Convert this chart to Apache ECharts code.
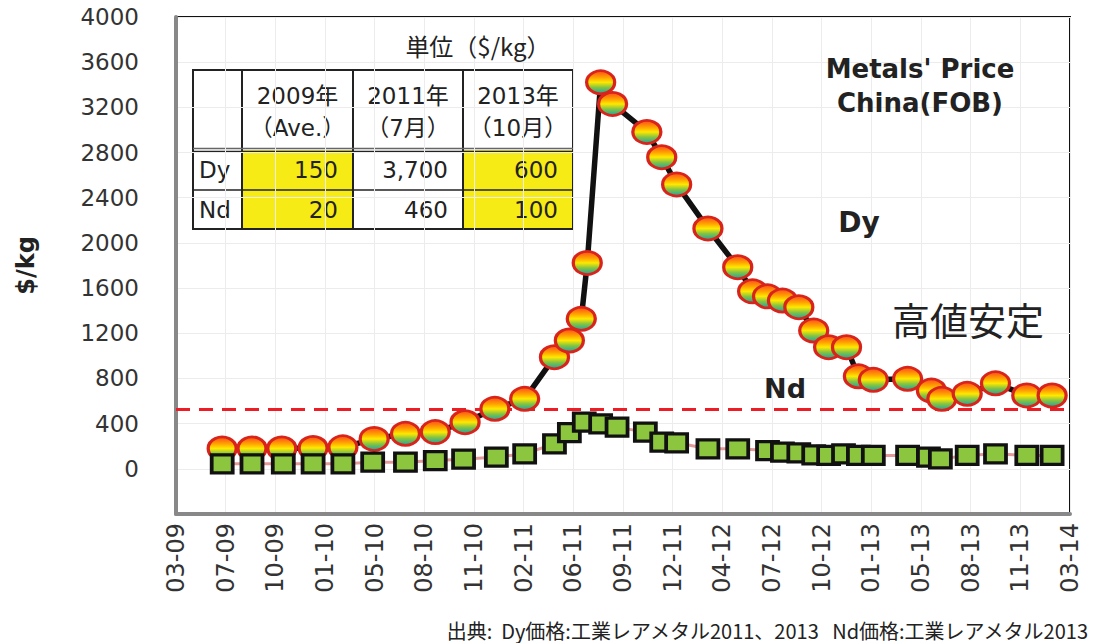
<!DOCTYPE html>
<html><head><meta charset="utf-8">
<script src="https://cdn.jsdelivr.net/npm/echarts@6/dist/echarts.min.js"></script>
<style>html,body{margin:0;padding:0;background:#fff}#c{width:1094px;height:643px}</style>
</head><body><div id="c"></div>
<script>
// ---- data ----
const xLabels = ['03-09','07-09','10-09','01-10','05-10','08-10','11-10','02-11','06-11','09-11','12-11','04-12','07-12','10-12','01-13','05-13','08-13','11-13','03-14'];
// months counted from March 2009
const dyMonths = [3.1,5.1,7.1,9.2,11.2,13.3,15.4,17.4,19.4,21.4,23.4,25.4,26.4,27.2,27.6,28.5,29.3,31.6,32.6,33.6,35.7,37.7,38.7,39.7,40.7,41.8,42.8,43.8,45.0,45.8,46.8,49.1,50.7,51.4,53.1,55.0,57.1,58.8];
const dyValues = [180,180,180,185,190,265,310,325,413,531,620,988,1136,1328,1823,3422,3230,2982,2759,2518,2128,1785,1571,1527,1490,1431,1224,1077,1077,819,788,797,693,620,664,757,650,649];
const ndMonths = [3.1,5.1,7.2,9.2,11.2,13.2,15.4,17.4,19.3,21.5,23.4,25.4,26.4,27.4,28.5,29.6,31.5,32.6,33.6,35.7,37.7,39.7,40.7,41.8,42.8,43.8,44.8,45.8,46.8,49.1,50.5,51.3,53.1,55.0,57.1,58.8];
const ndValues = [44,44,44,44,44,59,59,73,85,104,133,221,320,413,398,369,325,236,230,177,177,162,148,142,124,118,133,118,118,118,104,88,118,133,118,118];
const refLevel = 525;
const yMin = -400, yMax = 4000, yStep = 400;
const unitLabel = '単位（$/kg）';
const tableHeader = ['2009年','2011年','2013年'];
const tableSub = ['（Ave.）','（7月）','（10月）'];
const tableRowNames = ['Dy','Nd'];
const tableDy = ['150','3,700','600'];
const tableNd = ['20','460','100'];
const highlightCols = [0,2];
const titleLines = ["Metals' Price", 'China(FOB)'];
const dyTag = 'Dy', ndTag = 'Nd', noteText = '高値安定';
const sourceText = '出典:  Dy価格:工業レアメタル2011、2013   Nd価格:工業レアメタル2013';

// ---- chart ----
const chart = echarts.init(document.getElementById('c'), null, {renderer: 'svg'});
const cjk = '"Noto Sans CJK JP", "Noto Sans", sans-serif';
const tfont = '"DejaVu Sans", "Noto Sans CJK JP", sans-serif';
const circleFill = {type:'linear', x:0, y:0, x2:0, y2:1, colorStops:[
  {offset:0, color:'#ff4a1c'},{offset:0.3, color:'#ffa400'},{offset:0.5, color:'#ffe800'},
  {offset:0.72, color:'#86c440'},{offset:1, color:'#17a3a8'}]};

// table graphic
const colX = [193, 242, 353, 463, 573];
const rowY = [70, 150, 190, 229];
const tbl = [];
const tableVals = [tableDy, tableNd];
for (let r = 0; r < 2; r++) {
  for (let c = 0; c < 3; c++) {
    if (highlightCols.indexOf(c) >= 0) {
      tbl.push({type:'rect', shape:{x:colX[c+1], y:rowY[r+1], width:colX[c+2]-colX[c+1], height:rowY[r+2]-rowY[r+1]}, style:{fill:'#f6eb14'}});
    }
  }
}
tbl.push({type:'rect', shape:{x:colX[0], y:rowY[0], width:colX[4]-colX[0], height:rowY[3]-rowY[0]}, style:{fill:'none', stroke:'#222', lineWidth:2}});
for (let i = 1; i < 4; i++) tbl.push({type:'line', shape:{x1:colX[i], y1:rowY[0], x2:colX[i], y2:rowY[3]}, style:{stroke:'#222', lineWidth:2}});
tbl.push({type:'line', shape:{x1:colX[0], y1:rowY[1]-1.5, x2:colX[4], y2:rowY[1]-1.5}, style:{stroke:'#666', lineWidth:1.5}});
tbl.push({type:'line', shape:{x1:colX[0], y1:rowY[1]+1.5, x2:colX[4], y2:rowY[1]+1.5}, style:{stroke:'#222', lineWidth:1.5}});
tbl.push({type:'line', shape:{x1:colX[0], y1:rowY[2], x2:colX[4], y2:rowY[2]}, style:{stroke:'#222', lineWidth:1.5}});
for (let c = 0; c < 3; c++) {
  const cx = (colX[c+1] + colX[c+2]) / 2;
  tbl.push({type:'text', x:cx, y:96, style:{text:tableHeader[c], font:'23px '+tfont, fill:'#222', align:'center', verticalAlign:'middle'}});
  tbl.push({type:'text', x:cx, y:128, style:{text:tableSub[c], font:'23px '+tfont, fill:'#222', align:'center', verticalAlign:'middle'}});
}
for (let r = 0; r < 2; r++) {
  const cy = (rowY[r+1] + rowY[r+2]) / 2;
  tbl.push({type:'text', x:199, y:cy, style:{text:tableRowNames[r], font:'23px '+tfont, fill:'#222', align:'left', verticalAlign:'middle'}});
  for (let c = 0; c < 3; c++) {
    tbl.push({type:'text', x:colX[c+2]-15, y:cy, style:{text:tableVals[r][c], font:'23px '+tfont, fill:'#222', align:'right', verticalAlign:'middle'}});
  }
}

const option = {
  animation: false,
  backgroundColor: '#fff',
  grid: {left:176, right:24, top:17, bottom:129, show:true, borderColor:'#111', borderWidth:2, backgroundColor:'#fff'},
  xAxis: {
    type:'value', min:0, max:60, interval:10/3,
    axisLine:{show:true, onZero:false, lineStyle:{color:'#888', width:4}},
    axisTick:{show:false},
    splitLine:{show:true, lineStyle:{color:'#ececec', width:1}},
    axisLabel:{rotate:90, margin:9, fontSize:24, color:'#333', fontFamily:'"DejaVu Sans", sans-serif',
      formatter: v => xLabels[Math.round(v * 0.3)] || ''}
  },
  yAxis: {
    type:'value', min:yMin, max:yMax, interval:yStep,
    name:'$/kg', nameLocation:'middle', nameGap:138, nameRotate:90,
    nameTextStyle:{fontSize:24, fontWeight:'bold', color:'#222', fontFamily:'"DejaVu Sans", sans-serif'},
    axisLine:{show:true, lineStyle:{color:'#888', width:4}},
    axisTick:{show:false},
    splitLine:{show:true, lineStyle:{color:'#ececec', width:1}},
    axisLabel:{margin:37, fontSize:23, color:'#333', fontFamily:'"DejaVu Sans", sans-serif',
      formatter: v => v < 0 ? '' : String(v)}
  },
  series: [
    {
      name:'Dy', type:'line', z:3,
      data: dyMonths.map((m,i) => [m, dyValues[i]]),
      symbol:'circle', symbolSize:[28,23],
      lineStyle:{color:'#111', width:5.5},
      itemStyle:{color:circleFill, borderColor:'#d8241c', borderWidth:3},
      markLine:{silent:true, symbol:'none', z:1, label:{show:false},
        lineStyle:{color:'#ee1c24', type:[14,9], width:3}, data:[{yAxis:refLevel}]}
    },
    {
      name:'Nd', type:'line', z:4,
      data: ndMonths.map((m,i) => [m, ndValues[i]]),
      symbol:'rect', symbolSize:[21,18],
      lineStyle:{color:'#e59a9a', width:3},
      itemStyle:{color:'#8cc63f', borderColor:'#111', borderWidth:3.5}
    }
  ],
  graphic: [
    {type:'group', z:10, children: tbl},
    {type:'text', z:10, x:478, y:45, style:{text:unitLabel, font:'24px '+cjk, fill:'#222', align:'center', verticalAlign:'middle'}},
    {type:'text', z:10, x:920, y:69, style:{text:titleLines[0], font:'bold 26px "DejaVu Sans", sans-serif', fill:'#222', align:'center', verticalAlign:'middle'}},
    {type:'text', z:10, x:920, y:103, style:{text:titleLines[1], font:'bold 26px "DejaVu Sans", sans-serif', fill:'#222', align:'center', verticalAlign:'middle'}},
    {type:'text', z:10, x:859, y:222, style:{text:dyTag, font:'bold 28px "DejaVu Sans", sans-serif', fill:'#222', align:'center', verticalAlign:'middle'}},
    {type:'text', z:10, x:785, y:388, style:{text:ndTag, font:'bold 27px "DejaVu Sans", sans-serif', fill:'#222', align:'center', verticalAlign:'middle'}},
    {type:'text', z:10, x:968, y:318, style:{text:noteText, font:'38px '+cjk, fill:'#222', align:'center', verticalAlign:'middle'}},
    {type:'text', z:10, x:1088, y:630, style:{text:sourceText, font:'20px '+cjk, fill:'#222', align:'right', verticalAlign:'middle'}}
  ]
};
chart.setOption(option);
</script>
</body></html>
